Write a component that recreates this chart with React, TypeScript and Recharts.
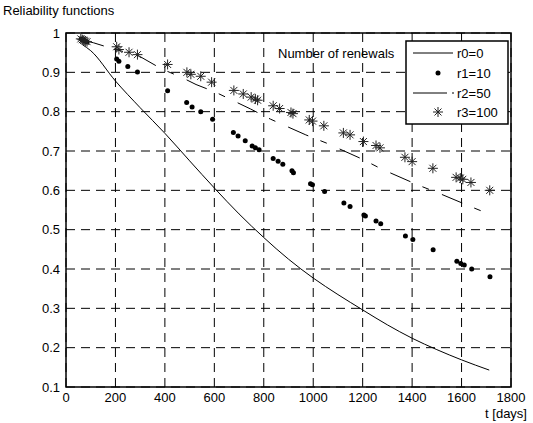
import React from "react";
import {
  ComposedChart,
  Line,
  Scatter,
  XAxis,
  YAxis,
  CartesianGrid,
  ReferenceArea,
  Legend,
} from "recharts";

// r0 = 0 renewals (solid curve)
const r0Days = [67, 100, 200, 300, 400, 500, 600, 700, 800, 900, 1000, 1100, 1200, 1300, 1400, 1500, 1600, 1712];
const r0Values = [0.97, 0.955, 0.878, 0.81, 0.745, 0.675, 0.606, 0.54, 0.48, 0.425, 0.377, 0.335, 0.296, 0.258, 0.224, 0.195, 0.169, 0.143];

// r1 = 10 renewals (dots)
const r1Days = [62, 70, 78, 85, 205, 214, 250, 289, 411, 488, 510, 545, 593, 677, 696, 725, 753, 766, 781, 838, 858, 877, 914, 920, 989, 997, 1046, 1124, 1149, 1205, 1211, 1254, 1273, 1373, 1403, 1485, 1581, 1597, 1611, 1641, 1715];
const r1Values = [0.985, 0.982, 0.979, 0.977, 0.934, 0.928, 0.915, 0.901, 0.853, 0.823, 0.812, 0.8, 0.781, 0.747, 0.738, 0.726, 0.713, 0.708, 0.703, 0.681, 0.674, 0.666, 0.65, 0.645, 0.617, 0.614, 0.597, 0.568, 0.559, 0.537, 0.535, 0.522, 0.515, 0.484, 0.475, 0.449, 0.42, 0.414, 0.41, 0.4, 0.38];

// r2 = 50 renewals (dashed line)
const r2Days = [67, 112, 153, 297, 386, 438, 462, 526, 603, 746, 827, 970, 1054, 1196, 1277, 1422, 1507, 1651, 1714];
const r2Values = [0.982, 0.975, 0.967, 0.941, 0.909, 0.895, 0.889, 0.869, 0.85, 0.807, 0.781, 0.741, 0.72, 0.68, 0.654, 0.614, 0.593, 0.555, 0.539];

// r3 = 100 renewals (stars)
const r3Days = [60, 66, 72, 78, 85, 205, 214, 255, 289, 411, 489, 505, 545, 589, 679, 717, 749, 766, 775, 838, 864, 910, 918, 984, 997, 1043, 1122, 1149, 1203, 1254, 1270, 1371, 1400, 1484, 1578, 1595, 1605, 1638, 1714];
const r3Values = [0.985, 0.983, 0.981, 0.979, 0.978, 0.965, 0.958, 0.951, 0.945, 0.92, 0.9, 0.895, 0.89, 0.875, 0.854, 0.845, 0.837, 0.832, 0.829, 0.815, 0.808, 0.798, 0.795, 0.779, 0.776, 0.764, 0.746, 0.741, 0.724, 0.714, 0.708, 0.684, 0.673, 0.656, 0.633, 0.631, 0.628, 0.62, 0.6];

const xTicks = [0, 200, 400, 600, 800, 1000, 1200, 1400, 1600, 1800];
const yTicks = [0.1, 0.2, 0.3, 0.4, 0.5, 0.6, 0.7, 0.8, 0.9, 1];

const seriesNames = ["r0=0", "r1=10", "r2=50", "r3=100"];

const FONT = "'Liberation Sans', Arial, sans-serif";

const pairs = (days: number[], vals: number[]) => days.map((t, i) => ({ t, v: vals[i] }));

const r0Data = pairs(r0Days, r0Values);
const r1Data = pairs(r1Days, r1Values);
const r2Data = pairs(r2Days, r2Values);
const r3Data = pairs(r3Days, r3Values);

function Star({ cx, cy }: { cx?: number; cy?: number }) {
  if (cx == null || cy == null) return null;
  const r = 5;
  const d = r * 0.7;
  return (
    <g stroke="#222" strokeWidth={1}>
      <line x1={cx - r} y1={cy} x2={cx + r} y2={cy} />
      <line x1={cx} y1={cy - r} x2={cx} y2={cy + r} />
      <line x1={cx - d} y1={cy - d} x2={cx + d} y2={cy + d} />
      <line x1={cx - d} y1={cy + d} x2={cx + d} y2={cy - d} />
    </g>
  );
}

function Dot({ cx, cy }: { cx?: number; cy?: number }) {
  if (cx == null || cy == null) return null;
  return <circle cx={cx} cy={cy} r={2.5} fill="#000" />;
}

function LegendBox() {
  const rowY = [15, 35, 55, 74];
  return (
    <svg width={235} height={92} style={{ display: "block", fontFamily: FONT }}>
      <text x={0} y={rowY[0] + 4.5} fontSize={13} fill="#000">
        Number of renewals
      </text>
      <rect x={128} y={3} width={102} height={83} fill="#fff" stroke="#000" strokeWidth={1.5} />
      <line x1={135} y1={rowY[0]} x2={175} y2={rowY[0]} stroke="#000" strokeWidth={1} />
      <Dot cx={160} cy={rowY[1]} />
      <line x1={135} y1={rowY[2]} x2={169} y2={rowY[2]} stroke="#000" strokeWidth={1} />
      <line x1={174} y1={rowY[2]} x2={176} y2={rowY[2]} stroke="#000" strokeWidth={1} />
      <Star cx={160} cy={rowY[3]} />
      {seriesNames.map((n, i) => (
        <text key={n} x={179} y={rowY[i] + 4.5} fontSize={13} fill="#000">
          {n}
        </text>
      ))}
    </svg>
  );
}

export default function App() {
  return (
    <div style={{ position: "absolute", left: 0, top: 0, width: 533, height: 423, background: "#fff", fontFamily: FONT }}>
      <div style={{ position: "absolute", left: 3, top: 4, fontSize: 13, lineHeight: "13px", color: "#000" }}>
        Reliability functions
      </div>
      <ComposedChart width={533} height={423} margin={{ top: 33, right: 22, bottom: 0, left: 0 }}>
        <CartesianGrid stroke="#000" strokeDasharray="9 6" strokeWidth={1} />
        <XAxis
          dataKey="t"
          type="number"
          domain={[0, 1800]}
          ticks={xTicks}
          height={36}
          tickLine={false}
          axisLine={false}
          tickSize={4}
          tickMargin={2}
          tick={{ fontSize: 13, fill: "#000", fontFamily: FONT }}
          label={{ value: "t [days]", position: "insideBottomRight", offset: 0, dx: 16, dy: -5, fill: "#000", fontSize: 13, fontFamily: FONT }}
        />
        <YAxis
          dataKey="v"
          type="number"
          domain={[0.1, 1]}
          ticks={yTicks}
          width={66}
          tickLine={false}
          axisLine={false}
          tickSize={4}
          tickMargin={2}
          tickFormatter={(v: number) => String(Math.round(v * 10) / 10)}
          tick={{ fontSize: 13, fill: "#000", fontFamily: FONT }}
        />
        <ReferenceArea x1={0} x2={1800} y1={0.1} y2={1} fill="none" stroke="#000" strokeWidth={1.5} />
        <Line data={r0Data} dataKey="v" type="monotone" stroke="#000" strokeWidth={1} dot={false} activeDot={false} isAnimationActive={false} />
        <Line data={r2Data} dataKey="v" type="linear" stroke="#000" strokeWidth={1} strokeDasharray="22 13 7 14" dot={false} activeDot={false} isAnimationActive={false} />
        <Scatter data={r1Data} dataKey="v" shape={(p: any) => <Dot cx={p.cx} cy={p.cy} />} isAnimationActive={false} />
        <Scatter data={r3Data} dataKey="v" shape={(p: any) => <Star cx={p.cx} cy={p.cy} />} isAnimationActive={false} />
        <Legend
          layout="horizontal"
          verticalAlign="middle"
          align="center"
          wrapperStyle={{ left: 278, top: 38, width: 235, height: 92 }}
          content={() => <LegendBox />}
        />
      </ComposedChart>
    </div>
  );
}
